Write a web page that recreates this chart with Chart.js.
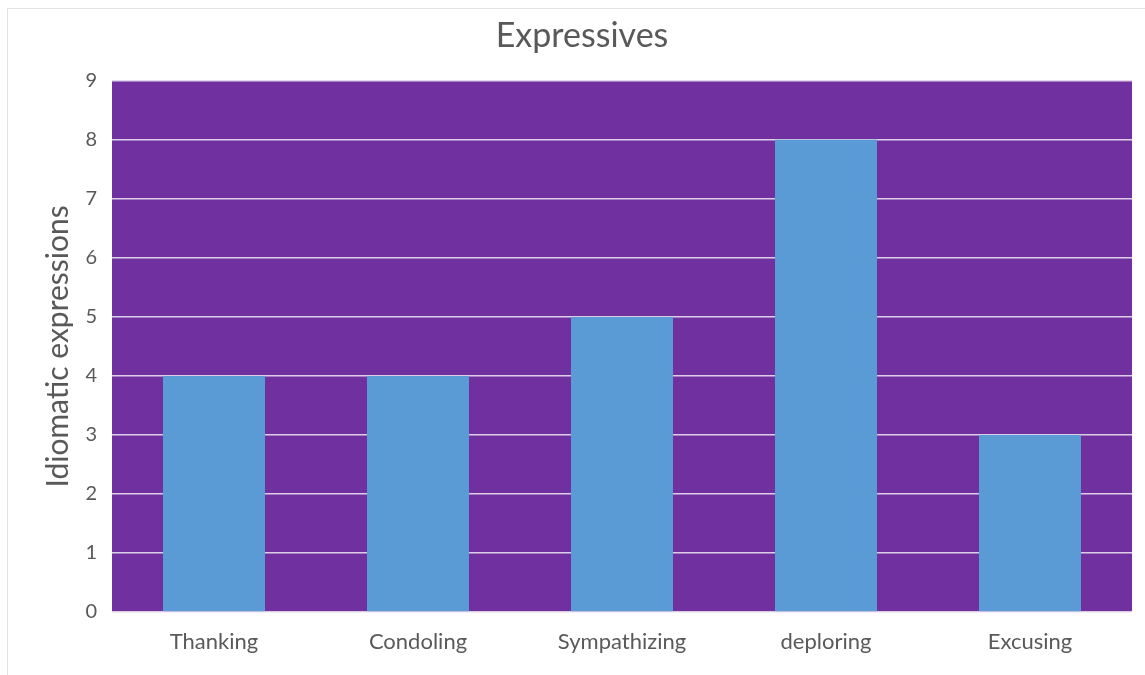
<!DOCTYPE html>
<html>
<head>
<meta charset="utf-8">
<script src="https://cdn.jsdelivr.net/npm/chart.js@4.4.0/dist/chart.umd.min.js"></script>
<style>
html,body{margin:0;padding:0;background:#fff;}
#wrap{width:1145px;height:675px;position:relative;}
</style>
</head>
<body>
<div id="wrap"><canvas id="c" width="1145" height="675"></canvas></div>
<script>
const categories = ["Thanking", "Condoling", "Sympathizing", "deploring", "Excusing"];
const values = [4, 4, 5, 8, 3];
const chartTitle = "Expressives";
const yAxisTitle = "Idiomatic expressions";
const yMin = 0, yMax = 9, yStep = 1;

const FONT = "Lato, 'Open Sans', sans-serif";
const TEXT = "#595959";

const bgPlugin = {
  id: 'plotBg',
  beforeDraw(chart) {
    const {ctx, chartArea: a} = chart;
    ctx.save();
    ctx.fillStyle = '#fff';
    ctx.fillRect(0, 0, chart.width, chart.height);
    ctx.strokeStyle = '#E3E3E3';
    ctx.lineWidth = 1;
    ctx.strokeRect(7.5, 8.5, 1300, 800);
    ctx.fillStyle = '#7030A0';
    ctx.fillRect(a.left, a.top, a.right - a.left, a.bottom - a.top);
    ctx.restore();
  }
};

new Chart(document.getElementById('c'), {
  type: 'bar',
  data: {
    labels: categories,
    datasets: [{
      data: values,
      backgroundColor: '#5B9BD5',
      borderWidth: 0,
      barPercentage: 0.5,
      categoryPercentage: 1.0
    }]
  },
  options: {
    responsive: false,
    animation: false,
    devicePixelRatio: 1,
    layout: {padding: {left: 32, right: 13, top: 0, bottom: 0}},
    plugins: {
      legend: {display: false},
      tooltip: {enabled: false},
      title: {
        display: true,
        text: chartTitle,
        color: TEXT,
        font: {family: FONT, size: 34, weight: 'normal'},
        padding: {top: 16, bottom: 24}
      }
    },
    scales: {
      x: {
        grid: {display: false, drawTicks: false},
        border: {display: false},
        ticks: {color: TEXT, font: {family: FONT, size: 22}, padding: 17},
        afterFit(s) { s.height = 63; }
      },
      y: {
        min: yMin, max: yMax,
        grid: {color: 'rgba(225,215,235,0.95)', lineWidth: 1.5, drawTicks: false},
        border: {display: false},
        ticks: {stepSize: yStep, color: TEXT, font: {family: FONT, size: 20}, padding: 15},
        title: {display: true, text: yAxisTitle, color: TEXT, font: {family: FONT, size: 30}, padding: {top: 8, bottom: 0}},
        afterFit(s) { s.width = 80; }
      }
    }
  },
  plugins: [bgPlugin]
});
</script>
</body>
</html>
